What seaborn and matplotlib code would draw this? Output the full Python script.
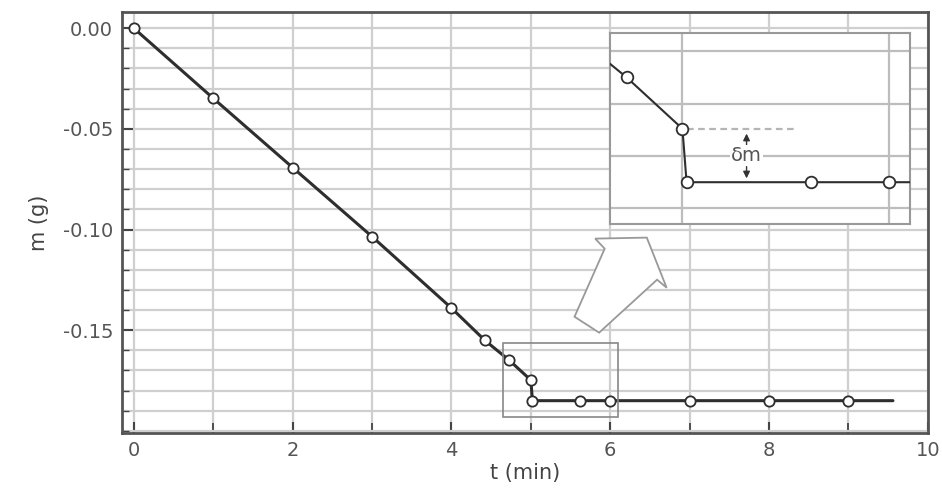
import matplotlib
matplotlib.use("Agg")
import matplotlib.pyplot as plt
from matplotlib.patches import Rectangle, Polygon
from matplotlib.ticker import MultipleLocator, FixedLocator, FormatStrFormatter
import seaborn as sns
import pandas as pd

# measured points
t_meas = [0, 1, 2, 3, 4, 4.42, 4.73, 5.0, 5.02, 5.62, 6.0, 7.0, 8.0, 9.0]
m_meas = [0.0, -0.0348, -0.0692, -0.1035, -0.139, -0.155, -0.165, -0.1748,
          -0.185, -0.185, -0.185, -0.185, -0.185, -0.185]
# the line runs a bit past the last measurement
t_line_end = 9.56
m_line_end = -0.185

y_major = [0.0, -0.05, -0.10, -0.15]

# zoom window shown in the inset
zoom_t = (4.65, 6.1)
zoom_m = (-0.193, -0.1565)

df = pd.DataFrame({"t": t_meas, "m": m_meas})
df_line = pd.DataFrame({"t": t_meas + [t_line_end], "m": m_meas + [m_line_end]})

sns.set_style("white")
plt.rcParams["font.family"] = ["DejaVu Sans"]

grey_txt = "#555555"
grid_c = "#cfcfcf"
dark = "#2e2e2e"

fig = plt.figure(figsize=(9.42, 4.97), dpi=100)
ax = fig.add_axes([0.129, 0.129, 0.856, 0.847])

sns.lineplot(data=df_line, x="t", y="m", sort=False, estimator=None,
             color=dark, lw=2.2, ax=ax, zorder=3)
sns.scatterplot(data=df, x="t", y="m", marker="o", s=55, color="white",
                edgecolor=dark, linewidth=1.3, ax=ax, zorder=4)

ax.set_xlim(-0.155, 10.0)
ax.set_ylim(-0.201, 0.0081)
ax.xaxis.set_major_locator(MultipleLocator(2))
ax.xaxis.set_minor_locator(MultipleLocator(1))
ax.yaxis.set_major_locator(FixedLocator(y_major))
ax.yaxis.set_minor_locator(MultipleLocator(0.01))
ax.yaxis.set_major_formatter(FormatStrFormatter("%.2f"))
ax.grid(True, which="both", color=grid_c, lw=1.6, zorder=0)
ax.set_axisbelow(True)
ax.tick_params(which="both", direction="in", color="#444444",
               top=False, right=False, left=True, bottom=True)
ax.tick_params(which="major", length=8, width=1.5, labelsize=14,
               labelcolor=grey_txt, pad=6)
ax.tick_params(which="minor", length=5, width=1.0)
ax.tick_params(axis="x", which="minor", length=7, width=1.3)
for sp in ax.spines.values():
    sp.set_color("#555555")
    sp.set_linewidth(2)
ax.set_xlabel("t (min)", fontsize=15, color="#444444", labelpad=2)
ax.set_ylabel("m (g)", fontsize=15, color="#444444", labelpad=10)

# rectangle marking the zoom region
ax.add_patch(Rectangle((zoom_t[0], zoom_m[0]), zoom_t[1] - zoom_t[0],
                       zoom_m[1] - zoom_m[0], fill=False, ec="#888888",
                       lw=1.2, zorder=5))

# hollow block arrow pointing to the inset
arrow_pts = [(5.81, -0.1045), (6.46, -0.104), (6.71, -0.1289), (6.59, -0.1249),
             (5.86, -0.1512), (5.55, -0.1433), (5.93, -0.1095)]
ax.add_patch(Polygon(arrow_pts, closed=True, fc="white", ec="#999999",
                     lw=1.3, zorder=6))

# inset
axi = fig.add_axes([0.6476, 0.549, 0.3184, 0.385])
sns.lineplot(data=df_line, x="t", y="m", sort=False, estimator=None,
             color=dark, lw=1.5, ax=axi, zorder=3)
sns.scatterplot(data=df, x="t", y="m", marker="o", s=70, color="white",
                edgecolor=dark, linewidth=1.3, ax=axi, zorder=4)
axi.set_xlim(*zoom_t)
axi.set_ylim(*zoom_m)
axi.xaxis.set_major_locator(MultipleLocator(1))
axi.yaxis.set_major_locator(MultipleLocator(0.01))
axi.grid(True, color="#bdbdbd", lw=1.6, zorder=0)
axi.set_axisbelow(True)
axi.set_xticklabels([])
axi.set_yticklabels([])
axi.tick_params(length=0)
axi.set_xlabel("")
axi.set_ylabel("")
for sp in axi.spines.values():
    sp.set_color("#999999")
    sp.set_linewidth(1.5)

# delta m annotation
axi.plot([5.02, 5.55], [m_meas[7], m_meas[7]], ls=(0, (3, 2)), color="#b5b5b5",
         lw=1.6, zorder=2)
axi.annotate("", xy=(5.31, -0.1752), xytext=(5.31, -0.1785),
             arrowprops=dict(arrowstyle="-|>", color="#333333", lw=1,
                             mutation_scale=10))
axi.annotate("", xy=(5.31, -0.1848), xytext=(5.31, -0.1815),
             arrowprops=dict(arrowstyle="-|>", color="#333333", lw=1,
                             mutation_scale=10))
axi.text(5.31, -0.1799, "δm", ha="center", va="center", fontsize=14,
         color="#555555", bbox=dict(fc="white", ec="none", pad=0.5), zorder=5)

fig.savefig("out.png", dpi=100)
